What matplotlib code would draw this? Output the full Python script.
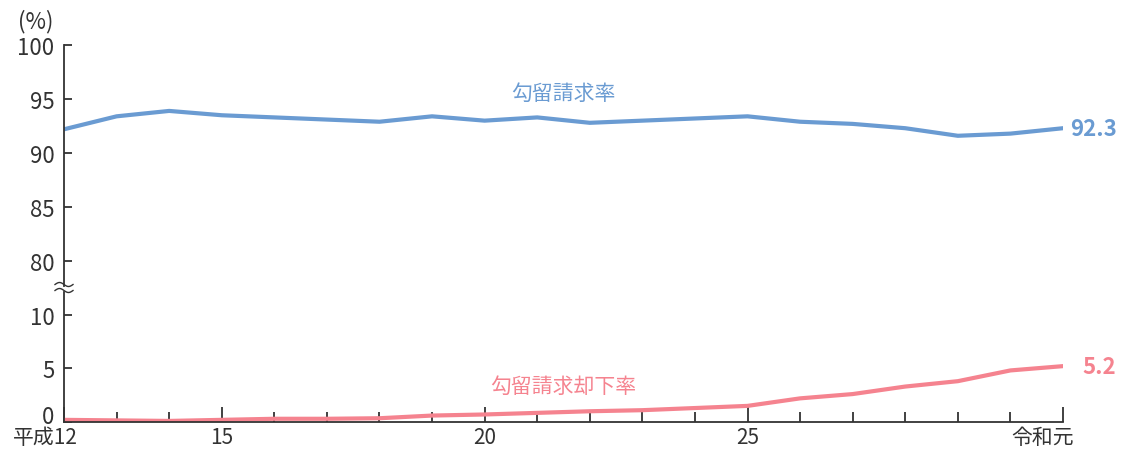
import numpy as np
import matplotlib.pyplot as plt
import matplotlib.transforms as mtransforms

plt.rcParams['font.family'] = ['Noto Sans CJK JP', 'DejaVu Sans']

# 平成12年〜令和元年
years = list(range(12, 32))
kouryu = [92.2, 93.4, 93.9, 93.5, 93.3, 93.1, 92.9, 93.4, 93.0, 93.3,
          92.8, 93.0, 93.2, 93.4, 92.9, 92.7, 92.3, 91.6, 91.8, 92.3]
kyakka = [0.2, 0.15, 0.1, 0.2, 0.3, 0.3, 0.35, 0.6, 0.7, 0.85,
          1.0, 1.1, 1.3, 1.5, 2.2, 2.6, 3.3, 3.8, 4.8, 5.2]
xtick_pos = [12, 15, 20, 25, 31]
xtick_lab = ['平成12', '15', '20', '25', '令和元']
upper_ticks = [80, 85, 90, 95, 100]
lower_ticks = [0, 5, 10]

blue = '#6a9bd2'
pink = '#f5838f'
dark = '#333333'

W, H = 1121, 452
fig = plt.figure(figsize=(W / 100, H / 100), dpi=100)

def px(x0, y0, x1, y1):
    return [x0 / W, 1 - y1 / H, (x1 - x0) / W, (y1 - y0) / H]

def shift(label, dx, dy):
    label.set_transform(label.get_transform() +
                        mtransforms.ScaledTranslation(dx / 100, dy / 100, fig.dpi_scale_trans))

ax1 = fig.add_axes(px(64, 46, 1063, 287))
ax2 = fig.add_axes(px(64, 293, 1063, 423))

for ax in (ax1, ax2):
    ax.set_xlim(12, 31)
    for s in ('top', 'right'):
        ax.spines[s].set_visible(False)
    ax.spines['left'].set_color(dark)
    ax.spines['left'].set_linewidth(1.3)
    ax.tick_params(axis='y', direction='in', length=6, width=1.3,
                   colors=dark, labelsize=16, pad=7)

ax1.plot(years, kouryu, color=blue, lw=3, solid_capstyle='round')
ax1.set_ylim(77.7, 100)
ax1.set_yticks(upper_ticks)
ax1.spines['bottom'].set_visible(False)
ax1.set_xticks([])

ax2.plot(years, kyakka, color=pink, lw=3, solid_capstyle='round')
ax2.set_ylim(0, 12.1)
ax2.set_yticks(lower_ticks)
ax2.spines['bottom'].set_color(dark)
ax2.spines['bottom'].set_linewidth(1.3)
ax2.set_xticks(years, minor=True)
ax2.set_xticks(xtick_pos)
ax2.set_xticklabels(xtick_lab)
ax2.tick_params(axis='x', which='major', direction='in', length=11, width=1.3,
                colors=dark, labelsize=15, pad=3)
ax2.tick_params(axis='x', which='minor', direction='in', length=7, width=1.3,
                colors=dark)

# 両端のラベルは右寄せ
labels = ax2.get_xticklabels()
for lab, dx in ((labels[0], 14), (labels[-1], 11)):
    lab.set_ha('right')
    shift(lab, dx, 0)

# 「0」は軸線より少し上に
shift(ax2.get_yticklabels()[0], 0, 8)

# 系列名と最終値
ax1.text(21.5, 95.6, '勾留請求率', color=blue, fontsize=15, ha='center', va='center')
ax2.text(21.5, 3.4, '勾留請求却下率', color=pink, fontsize=15, ha='center', va='center')
ax1.annotate(f'{kouryu[-1]:.1f}', (years[-1], kouryu[-1]), xytext=(5, 0),
             textcoords='offset points', color=blue, fontsize=16,
             fontweight='bold', va='center', ha='left', annotation_clip=False)
ax2.annotate(f'{kyakka[-1]:.1f}', (years[-1], kyakka[-1]), xytext=(14, 0),
             textcoords='offset points', color=pink, fontsize=16,
             fontweight='bold', va='center', ha='left', annotation_clip=False)

fig.text(18 / W, 1 - 22 / H, '(%)', color=dark, fontsize=16, va='center', ha='left')

# 省略記号
t = np.linspace(0, 1, 40)
xs = 55 + 18 * t
for y0 in (285.5, 291.5):
    ys = y0 - 2.0 * np.sin(2 * np.pi * t)
    fig.add_artist(plt.Line2D(xs / W, 1 - ys / H, color=dark, lw=1.0,
                              transform=fig.transFigure))

fig.savefig('out.png', dpi=100, facecolor='white')
